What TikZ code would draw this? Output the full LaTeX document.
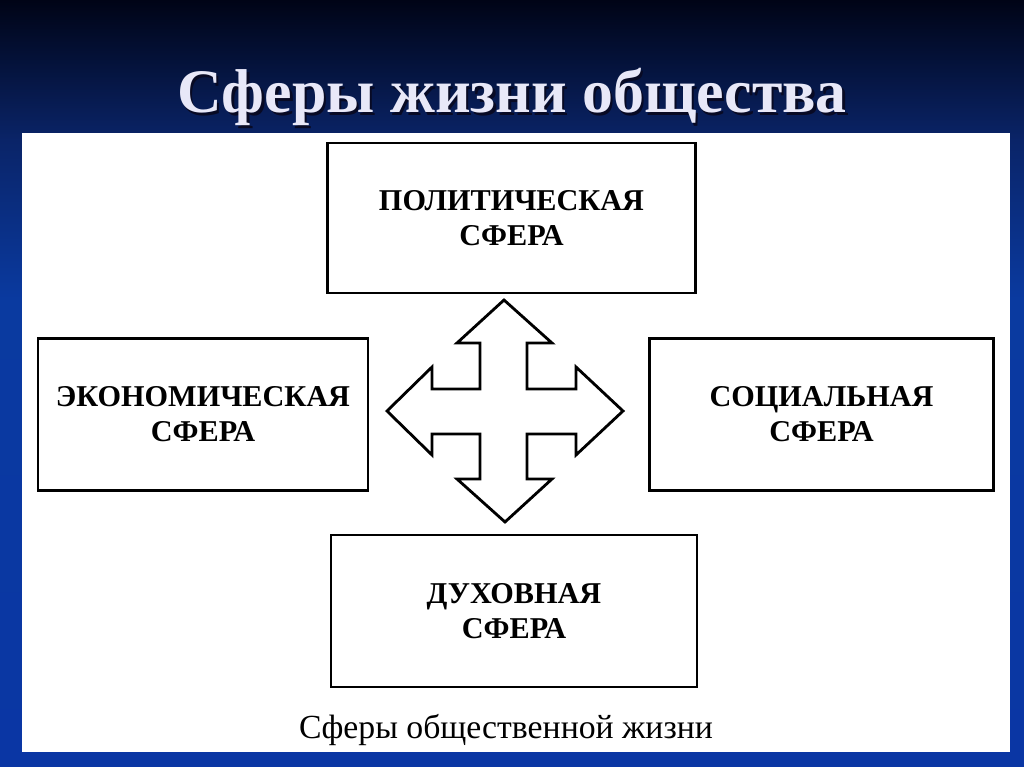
\documentclass[tikz,border=0pt]{standalone}
\usepackage{fontspec}
\setmainfont{Liberation Serif}
\usepackage{tikz}
\usetikzlibrary{positioning}
\definecolor{slidetop}{RGB}{0,4,22}
\definecolor{slidemid}{RGB}{10,36,104}
\definecolor{slidelow}{RGB}{10,58,160}
\definecolor{slidebot}{RGB}{10,54,164}
\definecolor{titlefg}{RGB}{232,232,248}
\definecolor{titleshadow}{RGB}{8,10,36}
\tikzset{
  sfera/.style={draw, line width=2pt, fill=white, align=center,
    font=\bfseries\fontsize{21.5}{25}\selectfont},  % one sphere of life
  cross/.style={draw, line width=2pt, fill=white, line join=miter},  % four-way arrow
  slidetitle/.style={font=\bfseries\fontsize{44}{48}\selectfont},
  caption/.style={font=\fontsize{24}{28}\selectfont}
}
\begin{document}
\begin{tikzpicture}[x=0.025cm, y=-0.025cm]
  \useasboundingbox (0,0) rectangle (1024,767);
  % slide background and white panel
  \shade[top color=slidetop, bottom color=slidemid] (0,0) rectangle (1024,140.5);
  \shade[top color=slidemid, bottom color=slidelow] (0,140) rectangle (1024,300.5);
  \shade[top color=slidelow, bottom color=slidebot] (0,300) rectangle (1024,767);
  \fill[white] (22,133) rectangle (1010,752);
  % title with its shadow
  \node[slidetitle, text=titleshadow] at (514.5,99.5) {Сферы жизни общества};
  \node[slidetitle, text=titlefg] (title) at (512,97) {Сферы жизни общества};
  % the four spheres
  \node[sfera, minimum width=9.18cm, minimum height=3.75cm] (pol) at (511.5,218) {ПОЛИТИЧЕСКАЯ\\СФЕРА};
  \node[sfera, minimum width=8.25cm, minimum height=3.78cm] (eco) at (203,414.5) {ЭКОНОМИЧЕСКАЯ\\СФЕРА};
  \node[sfera, minimum width=8.58cm, minimum height=3.78cm] (soc) at (821.5,414.5) {СОЦИАЛЬНАЯ\\СФЕРА};
  \node[sfera, minimum width=9.15cm, minimum height=3.8cm] (spir) at (514,611) {ДУХОВНАЯ\\СФЕРА};
  % arrow in the middle
  \draw[cross] (504,300) -- (552,343) -- (527,343) -- (527,389) -- (576,389) -- (576,367)
    -- (623,411) -- (576,455) -- (576,434) -- (527,434) -- (527,479) -- (552,479)
    -- (505,522) -- (457,479) -- (480,479) -- (480,434) -- (432,434) -- (432,455)
    -- (387,411) -- (432,367) -- (432,389) -- (480,389) -- (480,343) -- (457,343) -- cycle;
  \node[caption] (cap) at (506,730) {Сферы общественной жизни};
\end{tikzpicture}
\end{document}
